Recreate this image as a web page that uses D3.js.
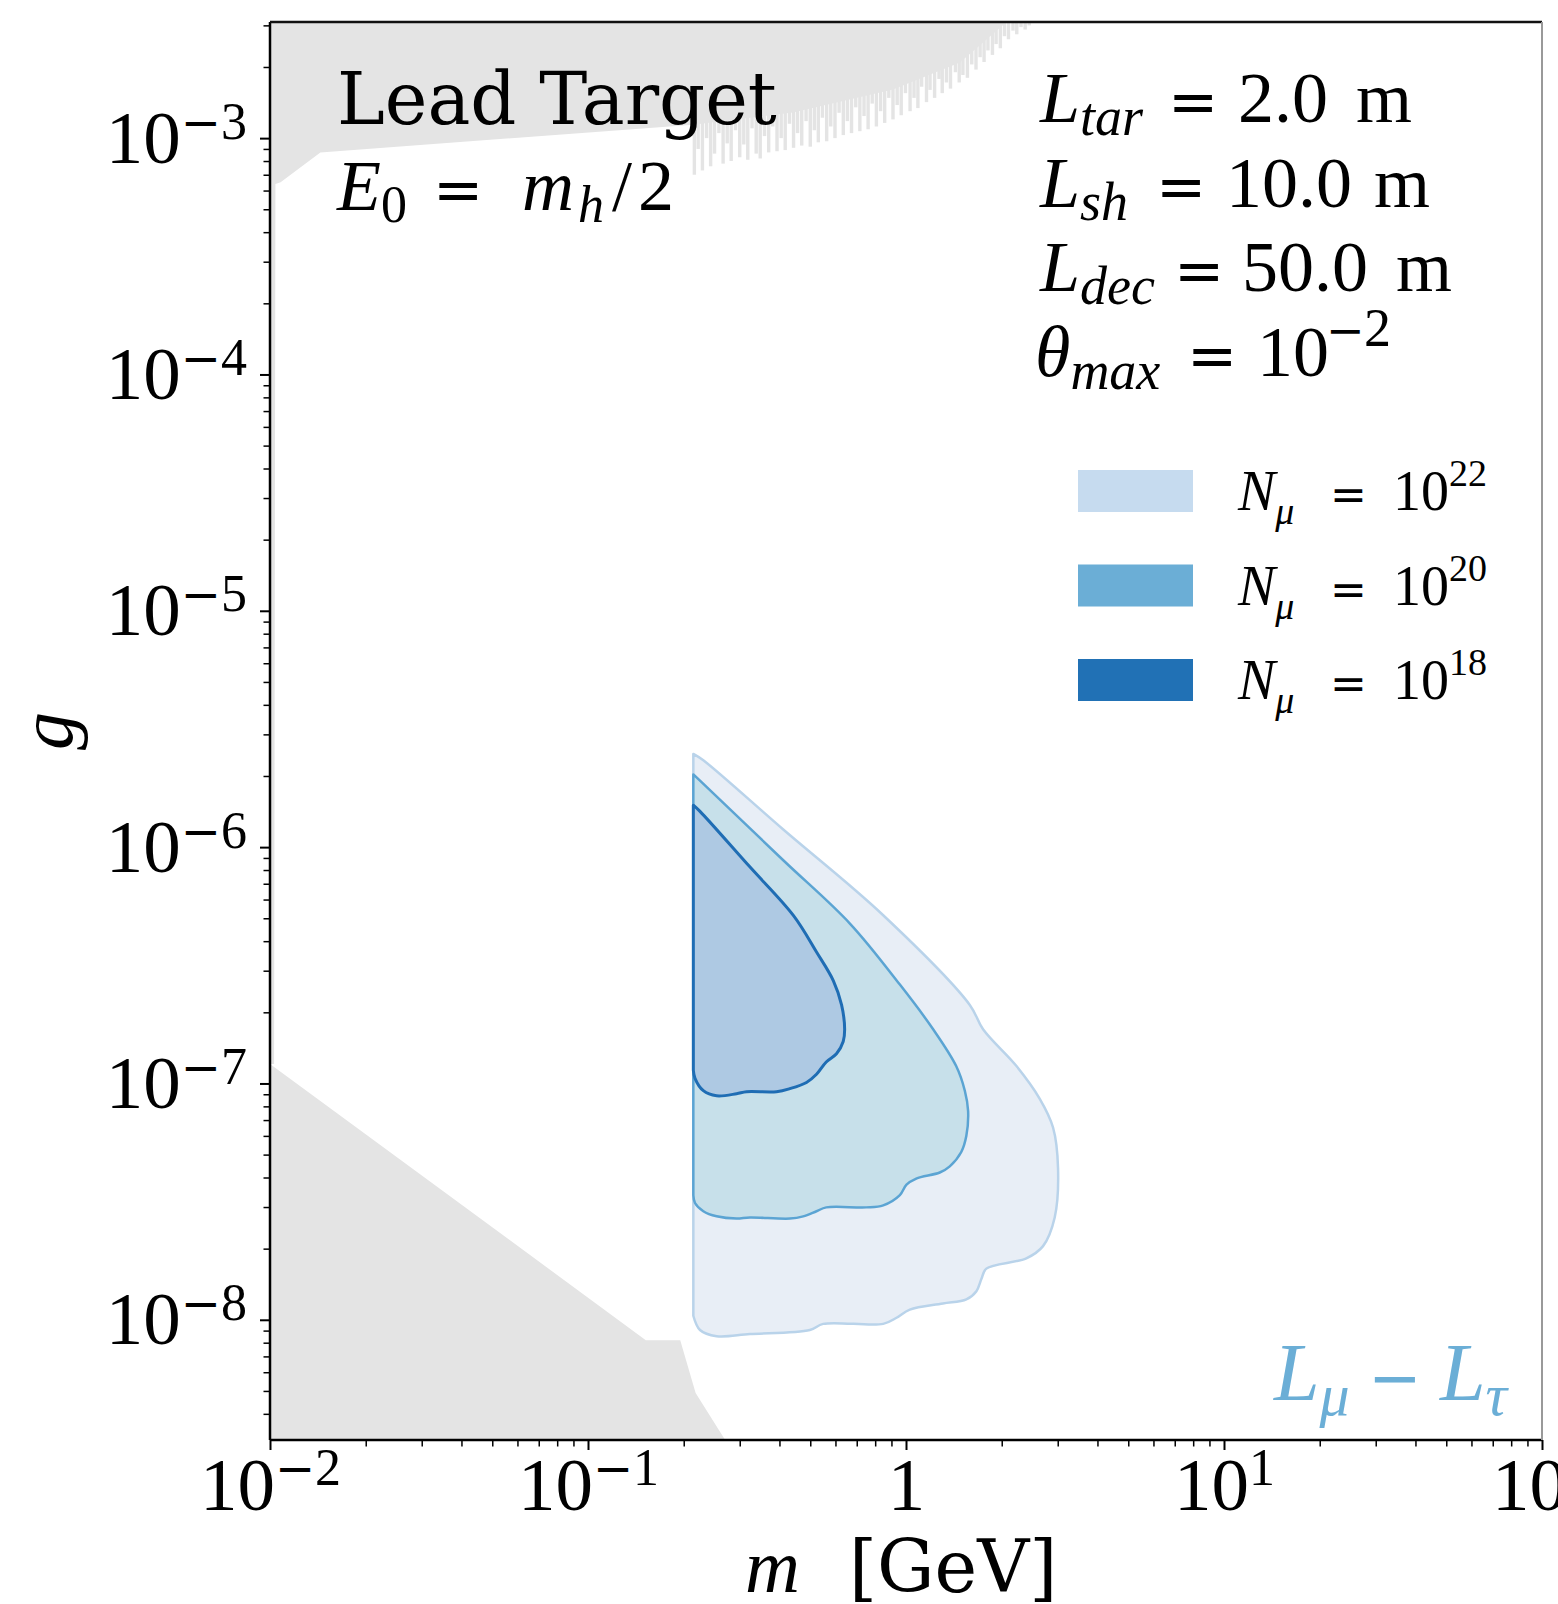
<!DOCTYPE html>
<html>
<head>
<meta charset="utf-8">
<script src="https://cdn.jsdelivr.net/npm/d3@7"></script>
<style>
  body { margin: 0; background: #fff; }
  text { white-space: pre; }
</style>
</head>
<body>
<div id="chart"></div>
<script>
const width = 1558;
const height = 1604;
const margin = {top: 22, right: 16, bottom: 164, left: 270};

// axis ranges (m in GeV, g dimensionless)
const massDomain = [1e-2, 1e2];
const couplingDomain = [3.1e-9, 3.1e-3];

const massTicks = [1e-2, 1e-1, 1, 1e1, 1e2];
const massTickLabels = [["10", "−", "2"], ["10", "−", "1"], ["1", "", ""], ["10", "", "1"], ["10", "", "2"]];
const couplingTicks = [1e-8, 1e-7, 1e-6, 1e-5, 1e-4, 1e-3];
const couplingTickLabels = [["10", "−", "8"], ["10", "−", "7"], ["10", "−", "6"],
  ["10", "−", "5"], ["10", "−", "4"], ["10", "−", "3"]];

// excluded region, upper part: solid edge ...
const upperEdge = [[0.01, 1.21e-7], [0.0103, 1.21e-7], [0.0104, 6.4e-4], [0.0108, 6.5e-4],
  [0.0144, 8.7e-4], [0.214, 1.14e-3], [0.441, 1.284e-3], [0.91, 1.607e-3], [1.478, 2.09e-3],
  [2.018, 3.0e-3], [2.17, 3.2e-3]];
// ... and the ragged fringe below it: [m, lowest g reached by each spike]
const upperSpikes = [
  [0.216, 7.0e-4], [0.222, 9.0e-4], [0.229, 7.3e-4], [0.236, 1.0e-3], [0.243, 7.6e-4],
  [0.250, 8.6e-4], [0.258, 1.05e-3], [0.266, 7.8e-4], [0.274, 9.5e-4], [0.282, 8.0e-4],
  [0.291, 1.08e-3], [0.300, 8.3e-4], [0.309, 9.4e-4], [0.318, 8.1e-4], [0.328, 1.1e-3],
  [0.338, 8.6e-4], [0.348, 8.2e-4], [0.359, 1.02e-3], [0.370, 8.7e-4], [0.381, 1.12e-3],
  [0.393, 8.8e-4], [0.405, 1.0e-3], [0.417, 8.9e-4], [0.430, 1.15e-3], [0.443, 9.1e-4],
  [0.456, 1.05e-3], [0.470, 9.3e-4], [0.485, 1.18e-3], [0.500, 9.2e-4], [0.515, 1.08e-3],
  [0.530, 9.6e-4], [0.546, 1.22e-3], [0.563, 9.7e-4], [0.580, 1.12e-3], [0.598, 1.0e-3],
  [0.616, 1.28e-3], [0.635, 1.03e-3], [0.654, 1.18e-3], [0.674, 1.05e-3], [0.695, 1.35e-3],
  [0.716, 1.07e-3], [0.738, 1.24e-3], [0.760, 1.09e-3], [0.783, 1.4e-3], [0.807, 1.12e-3],
  [0.832, 1.3e-3], [0.857, 1.16e-3], [0.883, 1.48e-3], [0.910, 1.2e-3], [0.938, 1.38e-3],
  [0.966, 1.25e-3], [0.996, 1.55e-3], [1.03, 1.3e-3], [1.06, 1.48e-3], [1.09, 1.34e-3],
  [1.12, 1.65e-3], [1.16, 1.42e-3], [1.19, 1.6e-3], [1.23, 1.48e-3], [1.27, 1.78e-3],
  [1.30, 1.55e-3], [1.34, 1.72e-3], [1.38, 1.62e-3], [1.43, 1.9e-3], [1.47, 1.72e-3],
  [1.51, 1.85e-3], [1.56, 1.8e-3], [1.61, 2.05e-3], [1.66, 1.95e-3], [1.71, 2.2e-3],
  [1.76, 2.1e-3], [1.81, 2.35e-3], [1.87, 2.25e-3], [1.92, 2.5e-3], [1.98, 2.4e-3],
  [2.04, 2.7e-3], [2.10, 2.62e-3], [2.17, 2.85e-3], [2.23, 2.75e-3], [2.30, 2.95e-3],
  [2.37, 2.88e-3], [2.44, 3.0e-3]
];

// excluded region, lower left
const lowerExclusion = [[0.01, 1.21e-7], [0.152, 8.2e-9], [0.195, 8.2e-9], [0.218, 4.9e-9],
  [0.27, 3.1e-9], [0.01, 3.1e-9]];

// sensitivity contours: top-left corner, around the right side, to bottom-left corner
const contour22 = [
  [0.2144, 2.48e-6], [0.2305, 2.33e-6], [0.4112, 1.187e-6], [0.8478, 5.15e-7], [1.587, 2.15e-7],
  [1.747, 1.696e-7], [2.225, 1.185e-7], [2.634, 8.61e-8], [2.900, 6.51e-8], [3.007, 4.37e-8],
  [2.935, 2.71e-8], [2.697, 2.05e-8], [2.390, 1.82e-8], [1.789, 1.646e-8], [1.727, 1.49e-8],
  [1.665, 1.322e-8], [1.548, 1.221e-8], [1.306, 1.173e-8], [1.028, 1.105e-8], [0.9335, 1.02e-8],
  [0.8478, 9.61e-9], [0.5489, 9.61e-9], [0.4985, 9.05e-9], [0.3231, 8.7e-9], [0.2538, 8.52e-9],
  [0.2250, 9.05e-9], [0.2144, 1.04e-8]
];
const contour20 = [
  [0.2144, 2.03e-6], [0.2250, 1.91e-6], [0.4112, 8.8e-7], [0.6662, 4.75e-7], [0.9566, 2.62e-7],
  [1.217, 1.696e-7], [1.438, 1.185e-7], [1.531, 9.32e-8], [1.568, 7.64e-8], [1.548, 6.01e-8],
  [1.492, 5.13e-8], [1.373, 4.46e-8], [1.277, 4.2e-8], [1.077, 3.96e-8], [1.0037, 3.73e-8],
  [0.9566, 3.37e-8], [0.8478, 3.05e-8], [0.7493, 2.99e-8], [0.5613, 2.99e-8], [0.5231, 2.88e-8],
  [0.4751, 2.74e-8], [0.4315, 2.68e-8], [0.3231, 2.71e-8], [0.2932, 2.68e-8], [0.2538, 2.74e-8],
  [0.2305, 2.88e-8], [0.2170, 3.12e-8], [0.2144, 3.37e-8]
];
const contour18 = [
  [0.2144, 1.505e-6], [0.2250, 1.417e-6], [0.3222, 8.27e-7], [0.4429, 5.13e-7], [0.5231, 3.6e-7],
  [0.5911, 2.72e-7], [0.6272, 2.15e-7], [0.6413, 1.696e-7], [0.6347, 1.505e-7], [0.6045, 1.335e-7],
  [0.5613, 1.233e-7], [0.5231, 1.094e-7], [0.4865, 1.01e-7], [0.4315, 9.51e-8], [0.3916, 9.23e-8],
  [0.3151, 9.23e-8], [0.2932, 9.05e-8], [0.2538, 8.87e-8], [0.2305, 9.32e-8], [0.2170, 1.051e-7],
  [0.2144, 1.138e-7]
];

const contours = [
  {n: "22", points: contour22, fill: "#e8eef6", stroke: "#b9d3ea", patch: "#c6dbef", width: 2.5},
  {n: "20", points: contour20, fill: "#c7e0ea", stroke: "#5ba4d3", patch: "#6baed6", width: 2.5},
  {n: "18", points: contour18, fill: "#aec9e3", stroke: "#1f6db4", patch: "#2171b5", width: 3}
];

const x = d3.scaleLog().domain(massDomain).range([margin.left, width - margin.right]);
const y = d3.scaleLog().domain(couplingDomain).range([height - margin.bottom, margin.top]);

const serif = "'Liberation Serif', 'Times New Roman', serif";
const sans = "'DejaVu Sans', sans-serif";
const gray = "#e4e4e4";

const svg = d3.select("#chart").append("svg")
    .attr("width", width)
    .attr("height", height);

svg.append("defs").append("clipPath").attr("id", "plot")
  .append("rect")
    .attr("x", margin.left).attr("y", margin.top)
    .attr("width", width - margin.left - margin.right)
    .attr("height", height - margin.bottom - margin.top);

const plot = svg.append("g").attr("clip-path", "url(#plot)");

const line = d3.line().x(d => x(d[0])).y(d => y(d[1]));

// ragged fringe: thin spikes hanging from the top
plot.append("g").selectAll("rect")
  .data(upperSpikes)
  .join("rect")
    .attr("x", d => x(d[0]) - 1.7)
    .attr("width", 3.4)
    .attr("y", margin.top)
    .attr("height", d => y(d[1]) - margin.top)
    .attr("fill", gray);

const upperTop = couplingDomain[1] * 1.2;
const lastEdge = upperEdge[upperEdge.length - 1];
plot.append("path")
    .attr("d", line(upperEdge.concat([[lastEdge[0], upperTop], [massDomain[0], upperTop]])) + "Z")
    .attr("fill", gray);

plot.append("path")
    .attr("d", line(lowerExclusion) + "Z")
    .attr("fill", gray);

const smooth = d3.line().x(d => x(d[0])).y(d => y(d[1])).curve(d3.curveCatmullRom.alpha(0.5));

plot.selectAll("path.contour")
  .data(contours)
  .join("path")
    .attr("class", "contour")
    .attr("d", d => smooth(d.points) + "Z")
    .attr("fill", d => d.fill)
    .attr("stroke", d => d.stroke)
    .attr("stroke-width", d => d.width)
    .attr("stroke-linejoin", "round");

// math-like labels: each part can be italic, sub/superscript, own font, own x
function mathText(parent, px, py, parts, o) {
  const size = o.size;
  const small = o.small || size * 0.7;
  const t = parent.append("text")
      .attr("x", px).attr("y", py)
      .attr("font-family", o.family || serif)
      .attr("font-size", size)
      .attr("fill", o.color || "#000")
      .attr("text-anchor", o.anchor || "start");
  let base = 0;
  parts.forEach(p => {
    if (!p.t) return;
    const level = p.s === "sub" ? (o.sub || size * 0.2) : p.s === "sup" ? -(o.sup || size * 0.4) : 0;
    const ts = t.append("tspan")
        .attr("dy", level - base)
        .attr("font-size", p.size || (p.s ? small : size))
        .attr("font-style", p.i ? "italic" : null)
        .attr("font-family", p.f || null)
        .text(p.t);
    if (p.x != null) ts.attr("x", p.x);
    base = level;
  });
  return t;
}

// axes: major ticks with labels, minor ticks
const yMajor = d3.axisLeft(y).tickValues(couplingTicks).tickSize(10).tickFormat(() => "");
const yMinor = d3.axisLeft(y).tickValues(y.ticks().filter(v => !couplingTicks.includes(v)))
  .tickSize(6.5).tickFormat(() => "");
const xMajor = d3.axisBottom(x).tickValues(massTicks).tickSize(10).tickFormat(() => "");
const xMinor = d3.axisBottom(x).tickValues(x.ticks().filter(v => !massTicks.includes(v)))
  .tickSize(6.5).tickFormat(() => "");

function styleAxis(g, w) {
  g.select(".domain").remove();
  g.selectAll(".tick line").attr("stroke", "#000").attr("stroke-width", w);
}

function tickParts(lab) {
  return [{t: lab[0]}, {t: lab[1], s: "sup", f: sans, size: 48}, {t: lab[2], s: "sup"}];
}

svg.append("g").attr("transform", `translate(${margin.left},0)`).call(yMinor).call(g => styleAxis(g, 1.5));
const yAxis = svg.append("g").attr("transform", `translate(${margin.left},0)`).call(yMajor)
  .call(g => styleAxis(g, 2));
yAxis.selectAll(".tick").each(function(d, i) {
  mathText(d3.select(this), -23, 24, tickParts(couplingTickLabels[i]),
    {size: 75, small: 52, sup: 24, anchor: "end"});
});

const bottom = height - margin.bottom;
svg.append("g").attr("transform", `translate(0,${bottom})`).call(xMinor).call(g => styleAxis(g, 1.5));
const xAxis = svg.append("g").attr("transform", `translate(0,${bottom})`).call(xMajor)
  .call(g => styleAxis(g, 2));
xAxis.selectAll(".tick").each(function(d, i) {
  mathText(d3.select(this), 0, 70, tickParts(massTickLabels[i]),
    {size: 75, small: 52, sup: 25, anchor: "middle"});
});

// spines
const right = width - margin.right;
svg.append("line").attr("x1", margin.left).attr("x2", margin.left)
  .attr("y1", margin.top).attr("y2", bottom).attr("stroke", "#000").attr("stroke-width", 2.5);
svg.append("line").attr("x1", margin.left).attr("x2", right)
  .attr("y1", bottom).attr("y2", bottom).attr("stroke", "#000").attr("stroke-width", 2.5);
svg.append("line").attr("x1", margin.left).attr("x2", right)
  .attr("y1", margin.top).attr("y2", margin.top).attr("stroke", "#111").attr("stroke-width", 2.5);
svg.append("line").attr("x1", right).attr("x2", right)
  .attr("y1", margin.top).attr("y2", bottom).attr("stroke", "#999").attr("stroke-width", 2);

// axis titles
mathText(svg, 745, 1592, [
  {t: "m", i: true, size: 76},
  {t: "[GeV]", f: "'DejaVu Serif', serif", x: 849}
], {size: 72});
mathText(svg, 0, 0, [{t: "g", i: true}], {size: 76, anchor: "middle"})
  .attr("transform", `translate(72,${(margin.top + bottom) / 2}) rotate(-90)`);

// annotations
svg.append("text")
    .attr("x", 337).attr("y", 124)
    .attr("font-family", "'DejaVu Serif', serif")
    .attr("font-size", 72)
    .text("Lead Target");

mathText(svg, 337, 210, [
  {t: "E", i: true}, {t: "0", s: "sub"},
  {t: "=", f: sans, size: 60, x: 433},
  {t: "m", i: true, x: 522}, {t: "h", i: true, s: "sub", x: 578},
  {t: "/", x: 612}, {t: "2", x: 638}
], {size: 72, small: 52, sub: 12});

const eq = {t: "=", f: sans, size: 60};
const settings = [
  [{t: "L", i: true}, {t: "tar", i: true, s: "sub"}, {...eq, x: 1168},
   {t: "2.0", x: 1238}, {t: "m", x: 1356}],
  [{t: "L", i: true}, {t: "sh", i: true, s: "sub"}, {...eq, x: 1156},
   {t: "10.0", x: 1226}, {t: "m", x: 1374}],
  [{t: "L", i: true}, {t: "dec", i: true, s: "sub"}, {...eq, x: 1174},
   {t: "50.0", x: 1242}, {t: "m", x: 1396}],
  [{t: "θ", i: true, x: 1035}, {t: "max", i: true, s: "sub"}, {...eq, x: 1187},
   {t: "10", x: 1257}, {t: "−", s: "sup", f: sans, size: 46, x: 1326}, {t: "2", s: "sup", x: 1364}]
];
settings.forEach((parts, i) => {
  mathText(svg, 1040, 122 + i * 84.5, parts, {size: 72, small: 54, sub: 13, sup: 30});
});

// legend
const legend = svg.append("g");
contours.forEach((c, i) => {
  const top = 470 + i * 94.5;
  legend.append("rect")
      .attr("x", 1078).attr("y", top)
      .attr("width", 115).attr("height", 42)
      .attr("fill", c.patch);
  mathText(legend, 1238, top + 40, [
    {t: "N", i: true}, {t: "μ", i: true, s: "sub"},
    {t: "=", f: sans, size: 44, x: 1330},
    {t: "10", x: 1393}, {t: c.n, s: "sup"}
  ], {size: 56, small: 38, sub: 14, sup: 24});
});

mathText(svg, 1274, 1400, [
  {t: "L", i: true}, {t: "μ", i: true, s: "sub"},
  {t: "−", f: sans, size: 64, x: 1368},
  {t: "L", i: true, x: 1440}, {t: "τ", i: true, s: "sub"}
], {size: 82, small: 60, sub: 15, color: "#6baed6"});
</script>
</body>
</html>
